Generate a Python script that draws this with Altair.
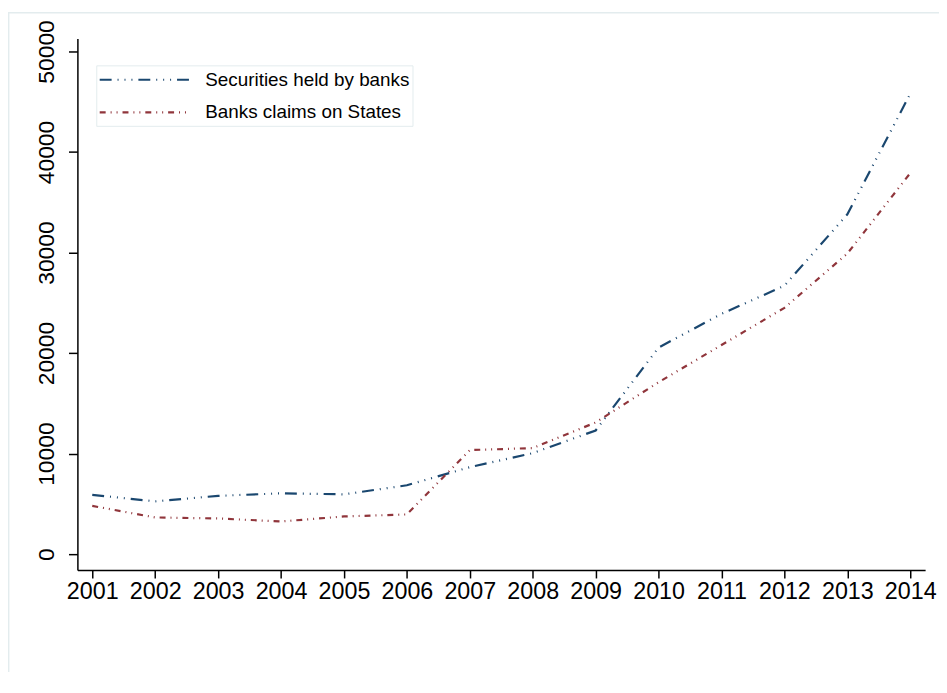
import altair as alt
import pandas as pd

years = list(range(2001, 2015))
securities = [5900, 5250, 5800, 6050, 5950, 6850, 8650, 10050, 12300, 20550, 23900, 26700, 33800, 45800]
claims = [4800, 3650, 3550, 3250, 3750, 3950, 10350, 10550, 13100, 17100, 20800, 24500, 29900, 37900]
series_names = ["Securities held by banks", "Banks claims on States"]
series_colors = ["#1a476f", "#90353b"]
series_dashes = [[12, 6, 1, 6, 1, 6, 1, 6], [6, 5, 1, 5, 1, 5]]
y_ticks = [0, 10000, 20000, 30000, 40000, 50000]

df = pd.DataFrame({
    "year": years * 2,
    "value": securities + claims,
    "series": [series_names[0]] * len(years) + [series_names[1]] * len(years),
})

W, H = 855, 536
FONT = "Liberation Sans"
FRAME = "#e3ecee"

common_axis = dict(
    title=None, grid=False, labelFont=FONT, labelColor="black",
    domainColor="black", tickColor="black", domainWidth=1.5, tickWidth=1.5,
    labelFlush=False, labelOverlap=False, format="d",
)

lines = alt.Chart(df).mark_line(strokeWidth=2.2, strokeCap="butt").encode(
    x=alt.X("year:Q",
            scale=alt.Scale(domain=[2000.764, 2014.236], nice=False, zero=False),
            axis=alt.Axis(values=years, tickSize=8, labelPadding=2, labelFontSize=23.5,
                          **common_axis)),
    y=alt.Y("value:Q",
            scale=alt.Scale(domain=[-1578, 51280], nice=False, zero=False),
            axis=alt.Axis(values=y_ticks, tickSize=9, labelAngle=270, labelAlign="center",
                          labelBaseline="alphabetic", labelPadding=15, labelFontSize=23,
                          **common_axis)),
    color=alt.Color("series:N", scale=alt.Scale(domain=series_names, range=series_colors),
                    legend=alt.Legend(title=None)),
    strokeDash=alt.StrokeDash("series:N", scale=alt.Scale(domain=series_names, range=series_dashes),
                              legend=alt.Legend(title=None)),
)

one = alt.Data(values=[{"k": 1}])
frame_top = alt.Chart(one).mark_rule(color=FRAME, strokeWidth=1.5).encode(
    x=alt.value(-70), x2=alt.value(W + 20), y=alt.value(-26))
frame_left = alt.Chart(one).mark_rule(color=FRAME, strokeWidth=1.5).encode(
    x=alt.value(-69.3), y=alt.value(-26), y2=alt.value(H + 200))

chart = alt.layer(frame_top, frame_left, lines).properties(
    width=W, height=H,
    padding={"left": 70, "top": 28, "right": 14, "bottom": 100},
    autosize=alt.AutoSizeParams(type="none"),
    background="white",
).configure_view(stroke=None).configure_legend(
    orient="none", legendX=19, legendY=27, padding=3, strokeColor=FRAME, fillColor="white",
    labelFont=FONT, labelFontSize=19, labelColor="black", labelLimit=400,
    symbolType="M-1.1,0L7.9,0", symbolSize=400, symbolStrokeWidth=2.2, labelOffset=84,
    rowPadding=11, cornerRadius=0,
)

chart.save("out.html", embed_options={"renderer": "svg", "actions": False})
